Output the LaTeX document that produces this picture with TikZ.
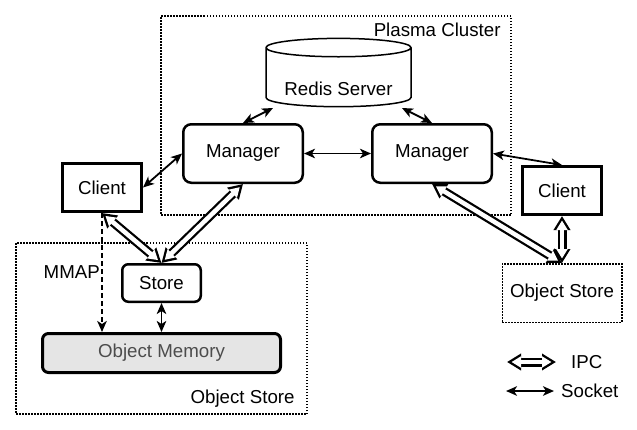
\documentclass[tikz,border=0pt]{standalone}
\usepackage{fontspec}
\setmainfont{Liberation Sans}
\usetikzlibrary{arrows.meta, positioning, shapes.geometric, calc}

\begin{document}
\begin{tikzpicture}[x=1pt, y=-1pt, >={Stealth[length=11pt, width=9.5pt, inset=3pt]}, node distance=29pt, font=\fontsize{18.7}{22}\selectfont,
  manager/.style={draw, line width=2.5pt, rounded corners=8pt, minimum width=119.5pt, minimum height=58.5pt, inner sep=0pt},
  client/.style={draw, line width=3pt, minimum width=79pt, minimum height=48pt, inner sep=0pt},
  group/.style={draw, line width=1.5pt, dash pattern=on 1.5pt off 1.5pt, inner sep=0pt},
  caption/.style={inner sep=0pt},
  socket/.style={line width=1.8pt, <->},
  ipc/.style={line width=9pt, {Triangle[length=14pt, width=16pt]}-{Triangle[length=14pt, width=16pt]},
    postaction={draw, white, line width=4.5pt, shorten <=4.5pt, shorten >=4.5pt, {Triangle[length=9.5pt, width=10.8pt]}-{Triangle[length=9.5pt, width=10.8pt]}}}]
\useasboundingbox (0,0) rectangle (637,429);
\node[group, minimum width=350pt, minimum height=199pt] (cluster) at (336,115.5) {};
\node[caption, anchor=east] (clustertext) at ($(cluster.north east)+(-11,15)$) {Plasma Cluster};
\node[group, minimum width=291pt, minimum height=171pt] (objL) at (161.5,328.5) {};
\node[caption, anchor=east] (objLtext) at ($(objL.south east)+(-13,-16.5)$) {Object Store};
\node[cylinder, shape border rotate=90, draw, line width=1.5pt, aspect=0.17, minimum width=145pt, minimum height=57pt, inner sep=0pt,
  text height=38pt, text depth=2pt] (redis) at (338.5,77.5) {Redis Server};
\node[manager] (manL) at (243,153.5) {Manager};
\node[manager, right=67pt of manL] (manR) {Manager};
\node[client] (clientL) at (102,187.5) {Client};
\node[client] (clientR) at (562,190.5) {Client};
\node[manager, minimum width=78.5pt, minimum height=37.5pt, rounded corners=6pt] (store) at (161.5,283) {Store};
\node[manager, line width=3pt, minimum width=238pt, minimum height=39pt, rounded corners=6pt, fill=black!10, text=black!70, below=of store] (mem) {Object Memory};
\node[group, minimum width=119.5pt, minimum height=58.5pt, below=47pt of clientR] (objR) {Object Store};
\node[caption, anchor=east] (mmap) at (100,272.5) {MMAP};
\coordinate (redisL) at ($(redis.center)+(-65.5,30.5)$);
\coordinate (redisR) at ($(redis.center)+(63.5,30.5)$);
\draw[socket] (manL.north) -- (redisL);
\draw[socket] (manR.north) -- (redisR);
\draw[socket] (manL.east) -- (manR.west);
\draw[socket] (clientL.east) -- (manL.west);
\draw[socket] (manR.east) -- (clientR.north);
\draw[socket] (store.south) -- (mem.north);
\draw[ipc] (clientL.south) -- (store.north);
\draw[ipc] (manL.south) -- (store.north);
\draw[ipc] (manR.south) -- (objR.north);
\draw[ipc] (clientR.south) -- (objR.north);
\draw[line width=1.8pt, dash pattern=on 5pt off 3pt, ->] (clientL.south) -- (clientL.south |- mem.north);
\coordinate (ipcA) at (507,362);
\coordinate (ipcB) at (556,362);
\coordinate (socketA) at (506,391);
\coordinate (socketB) at (554,391);
\draw[ipc] (ipcA) -- (ipcB);
\draw[socket] (socketA) -- (socketB);
\node[caption, anchor=west] (ipctext) at (571,362) {IPC};
\node[caption, anchor=west] (sockettext) at (561,391) {Socket};
\end{tikzpicture}
\end{document}
